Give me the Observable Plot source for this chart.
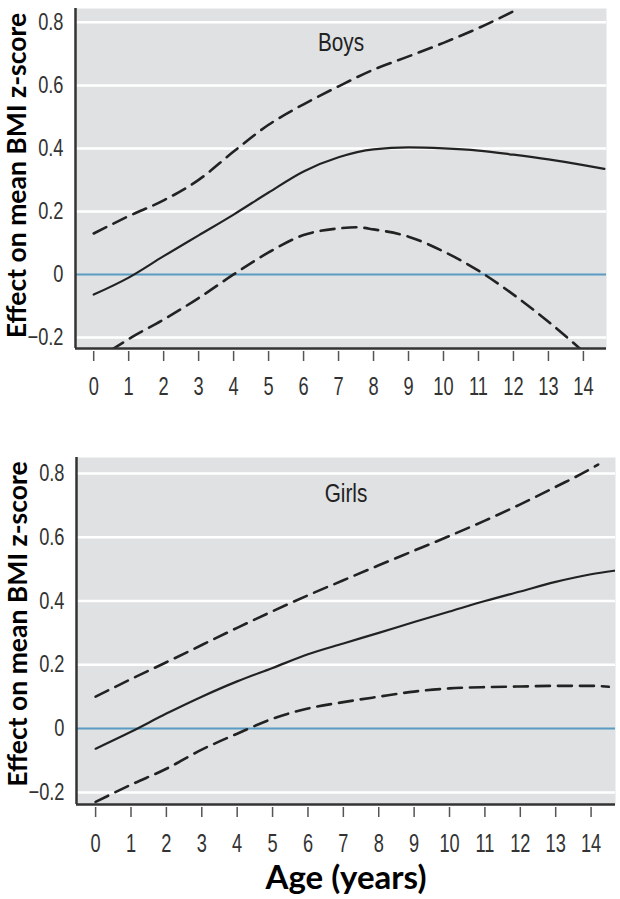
<!DOCTYPE html>
<html>
<head>
<meta charset="utf-8">
<script src="https://cdn.jsdelivr.net/npm/d3@7"></script>
<script src="https://cdn.jsdelivr.net/npm/@observablehq/plot@0.6"></script>
<style>
  body { margin: 0; background: #fff; }
  #wrap { position: relative; width: 620px; height: 899px; overflow: hidden; }
  #top { position: absolute; left: 0; top: 0; }
  #bot { position: absolute; left: 0; top: 440px; }
  svg { overflow: visible; }
</style>
</head>
<body>
<div id="wrap"><div id="top"></div><div id="bot"></div></div>
<script>
// ---- tick labels ----
const xTicks = [0,1,2,3,4,5,6,7,8,9,10,11,12,13,14];
const yTicks = [-0.2, 0, 0.2, 0.4, 0.6, 0.8];
const gridTicks = [-0.2, 0.2, 0.4, 0.6, 0.8];
const panelLabels = ["Boys", "Girls"];
const yLabel = "Effect on mean BMI z-score";
const xLabel = "Age (years)";

// ---- Boys ----
const boysAge      = [0, 1, 2, 3, 4, 5, 6, 7, 8, 9, 10, 11, 12, 13, 14, 14.6];
const boysEffect   = [-0.064, -0.01, 0.058, 0.124, 0.19, 0.26, 0.327, 0.372, 0.397, 0.403, 0.40, 0.393, 0.38, 0.365, 0.347, 0.335];
const boysUpperAge = [0, 1, 2, 3, 4, 5, 6, 7, 8, 9, 10, 11, 12];
const boysUpper    = [0.13, 0.185, 0.235, 0.3, 0.39, 0.475, 0.54, 0.597, 0.65, 0.692, 0.735, 0.782, 0.835];
const boysLowerAge = [0.5, 1, 2, 3, 4, 5, 6, 7, 7.5, 8, 9, 10, 11, 12, 13, 14];
const boysLower    = [-0.24, -0.205, -0.143, -0.075, 0.0, 0.07, 0.125, 0.146, 0.15, 0.143, 0.12, 0.073, 0.012, -0.064, -0.15, -0.245];

// ---- Girls ----
const girlsAge      = [0, 1, 2, 3, 4, 5, 6, 7, 8, 9, 10, 11, 12, 13, 14, 14.65];
const girlsEffect   = [-0.063, -0.01, 0.047, 0.10, 0.148, 0.19, 0.233, 0.267, 0.30, 0.334, 0.367, 0.40, 0.43, 0.46, 0.484, 0.495];
const girlsUpperAge = [0, 1, 2, 3, 4, 5, 6, 7, 8, 9, 10, 11, 12, 13, 14, 14.2];
const girlsUpper    = [0.10, 0.155, 0.208, 0.262, 0.316, 0.368, 0.418, 0.465, 0.512, 0.558, 0.604, 0.652, 0.703, 0.758, 0.815, 0.828];
const girlsLowerAge = [0, 1, 2, 3, 4, 5, 6, 7, 8, 9, 10, 11, 12, 13, 14, 14.5];
const girlsLower    = [-0.23, -0.176, -0.126, -0.066, -0.016, 0.031, 0.063, 0.083, 0.10, 0.116, 0.126, 0.13, 0.132, 0.134, 0.134, 0.131];

const condFont = "'Liberation Sans', Arial, sans-serif";
const boldSans = "Lato, 'Open Sans', sans-serif";
const toRows = (xs, ys) => xs.map((x, i) => ({x, y: ys[i]}));
const fmt = d => d === 0 ? "0" : d3.format(".1f")(d);

function panel(opts) {
  const {label, xDomain, yDomain, effect, upper, lower, ml, mr, mt, mb, h, labelDy, ylabelDy, tickPad, withXLabel} = opts;
  const marks = [
    Plot.frame({fill: "#dfe1e2", stroke: null}),
    Plot.gridY(gridTicks, {stroke: "#ffffff", strokeOpacity: 1, strokeWidth: 2.5}),
    Plot.ruleY([0], {stroke: "#5b9cc4", strokeWidth: 2}),
    Plot.line(upper, {x: "x", y: "y", curve: "monotone-x", stroke: "#222", strokeWidth: 2.6, strokeDasharray: "14,8", clip: true}),
    Plot.line(lower, {x: "x", y: "y", curve: "monotone-x", stroke: "#222", strokeWidth: 2.6, strokeDasharray: "14,8", clip: true}),
    Plot.line(effect, {x: "x", y: "y", curve: "monotone-x", stroke: "#222", strokeWidth: 2.2, clip: true}),
    Plot.ruleX([xDomain[0]], {stroke: "#333", strokeWidth: 2.5}),
    Plot.ruleY([yDomain[0]], {stroke: "#333", strokeWidth: 2.5}),
    Plot.axisY(yTicks, {tickSize: 0, tickPadding: 12, tickFormat: fmt, fontSize: 24, fontFamily: condFont, fill: "#333", label: null}),
    Plot.axisX(xTicks, {tickSize: 10, dy: 3, fill: "none", stroke: "#555", strokeWidth: 1.5, label: null}),
    Plot.axisX(xTicks, {tickSize: 0, tickPadding: tickPad, fontSize: 26, fontFamily: condFont, fill: "#333", label: null}),
    Plot.text([label], {frameAnchor: "top", dy: labelDy, fontSize: 25, fontFamily: condFont, fill: "#222"}),
    Plot.text([yLabel], {frameAnchor: "left", textAnchor: "middle", rotate: -90, dx: -58, dy: ylabelDy, fontSize: 26.5, fontWeight: "bold", fontFamily: boldSans, fill: "#000"})
  ];
  if (withXLabel) {
    marks.push(Plot.text([xLabel], {frameAnchor: "bottom", dy: 84, fontSize: 33, fontWeight: "bold", fontFamily: boldSans, fill: "#000"}));
  }
  return Plot.plot({
    width: 620, height: h,
    marginLeft: ml, marginRight: mr, marginTop: mt, marginBottom: mb,
    x: {domain: xDomain, axis: null},
    y: {domain: yDomain, axis: null},
    style: {background: "transparent", overflow: "visible"},
    marks
  });
}

// condense the tick labels and panel labels to mimic the narrow typeface
function condense(svg, label) {
  const squeeze = (sel, f) => svg.querySelectorAll(sel).forEach(t => {
    const w = t.getComputedTextLength();
    t.setAttribute("textLength", (w * f).toFixed(2));
    t.setAttribute("lengthAdjust", "spacingAndGlyphs");
  });
  squeeze('g[aria-label="x-axis tick label"] text', 0.7);
  squeeze('g[aria-label="y-axis tick label"] text', 0.76);
  svg.querySelectorAll("text").forEach(t => {
    if (t.textContent === label) {
      const w = t.getComputedTextLength();
      t.setAttribute("textLength", (w * 0.83).toFixed(2));
      t.setAttribute("lengthAdjust", "spacingAndGlyphs");
    }
  });
}

const topSvg = panel({
  label: panelLabels[0], xDomain: [-0.52, 14.66], yDomain: [-0.235, 0.844],
  effect: toRows(boysAge, boysEffect), upper: toRows(boysUpperAge, boysUpper), lower: toRows(boysLowerAge, boysLower),
  ml: 75, mr: 14, mt: 8, mb: 62, h: 410, labelDy: 25, ylabelDy: -3, tickPad: 28, withXLabel: false
});
document.getElementById("top").append(topSvg);
condense(topSvg, panelLabels[0]);

const botSvg = panel({
  label: panelLabels[1], xDomain: [-0.54, 14.69], yDomain: [-0.238, 0.85],
  effect: toRows(girlsAge, girlsEffect), upper: toRows(girlsUpperAge, girlsUpper), lower: toRows(girlsLowerAge, girlsLower),
  ml: 76, mr: 5, mt: 17, mb: 95, h: 459, labelDy: 27, ylabelDy: -7, tickPad: 29, withXLabel: true
});
document.getElementById("bot").append(botSvg);
condense(botSvg, panelLabels[1]);
</script>
</body>
</html>
